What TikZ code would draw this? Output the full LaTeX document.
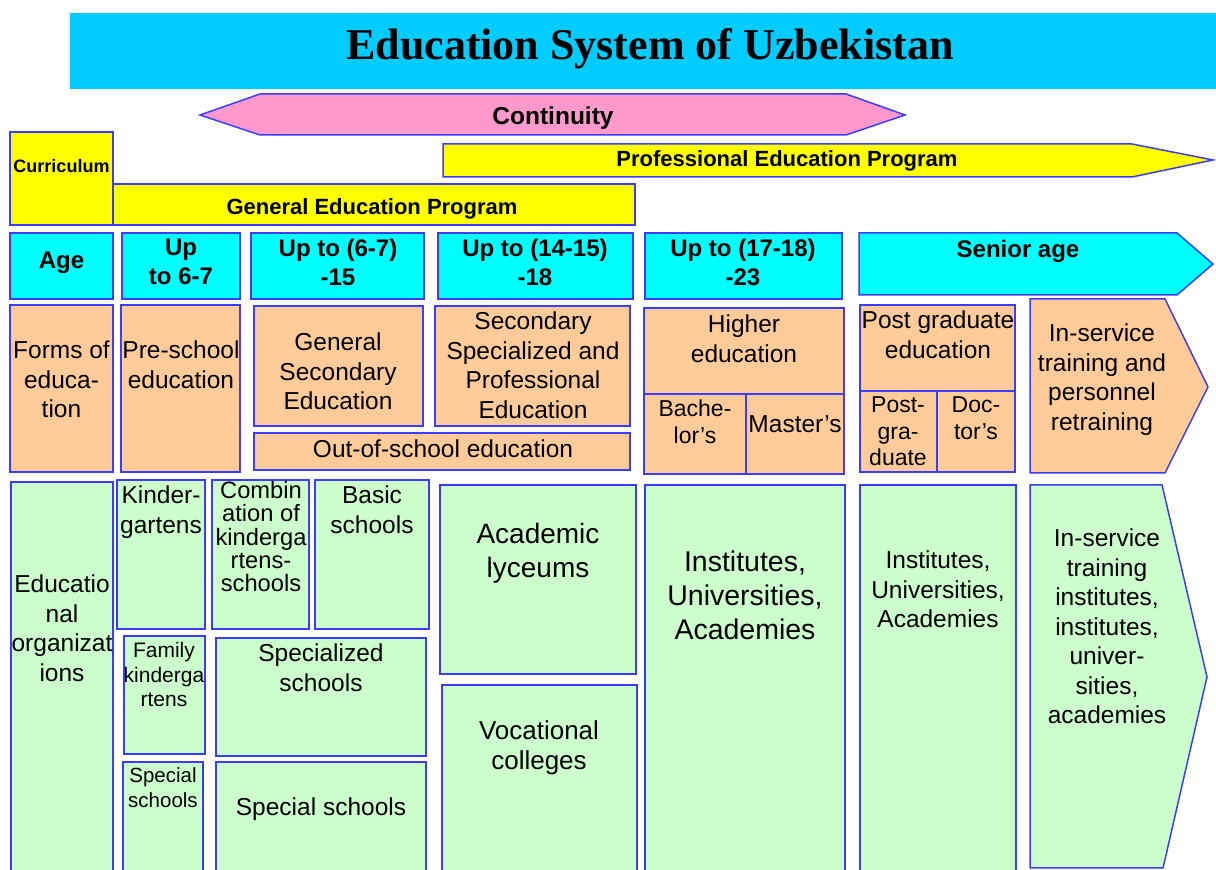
\documentclass[tikz,border=0pt]{standalone}
\usepackage{fontspec}
\setmainfont{Liberation Sans}
\newfontfamily\titlefont{Liberation Serif}
\definecolor{kedge}{RGB}{60,60,255}
\definecolor{ktitle}{RGB}{0,204,255}
\definecolor{kcyan}{RGB}{0,255,255}
\definecolor{kpeach}{RGB}{255,204,153}
\definecolor{kgreen}{RGB}{204,255,204}
\definecolor{kyellow}{RGB}{255,255,0}
\definecolor{kpink}{RGB}{255,153,204}
\tikzset{
  kbox/.style={draw=kedge,line width=0.75pt},
  klb/.style={inner sep=0pt,align=center,anchor=north},
  % first baseline goes at the given point
  kf/.style 2 args={font=\fontsize{#1}{#2}\selectfont,yshift={0.716*#1*1pt}},
  kbf/.style 2 args={font=\bfseries\fontsize{#1}{#2}\selectfont,yshift={0.716*#1*1pt}},
  khead/.style={kbf={12}{14.5}},
  kprog/.style={kbf={11}{13}},
  ktxt/.style={kf={12.25}{14.75}},
}
\begin{document}
\begin{tikzpicture}[x=0.5pt,y=-0.5pt]
\useasboundingbox (0,0) rectangle (1216,870);
% title bar
\fill[ktitle](70,13)rectangle(1216,89);
\node[inner sep=0pt,anchor=base,font=\titlefont\bfseries\fontsize{22}{26}\selectfont](title)at(650,60){Education System of Uzbekistan};
% continuity and programs
\draw[kbox,fill=kpink](200,115)--(260,94)--(846,94)--(905,115)--(846,135)--(260,135)--cycle;
\node[klb,kbf={12.25}{14}](cont)at(553,124){Continuity};
\draw[kbox,fill=kyellow](443,144)--(1132,144)--(1213,160)--(1132,177)--(443,177)--cycle;
\node[klb,kprog](prof)at(787,166){Professional Education Program};
\draw[kbox,fill=kyellow](10,132)rectangle(113,225);
\draw[kbox,fill=kyellow](113,184)rectangle(635,225);
\node[klb,kbf={9}{11}](curr)at(61.5,172){Curriculum};
\node[klb,kprog](gen)at(372,214){General Education Program};
% age row
\foreach \xa/\xb in {10/113,122/240,251/424,438/633,645/842}{\draw[kbox,fill=kcyan](\xa,233)rectangle(\xb,299);}
\draw[kbox,fill=kcyan](859,233)--(1177,233)--(1213,264)--(1177,295)--(859,295)--cycle;
\foreach \nm/\cx/\by/\txt in {age/61.5/269/Age,a1/181/256/{Up\\to 6-7},a2/338/256/{Up to (6-7)\\-15},
  a3/535/256/{Up to (14-15)\\-18},a4/743/256/{Up to (17-18)\\-23},a5/1018/257/{Senior age}}
  {\node[klb,khead](\nm)at(\cx,\by){\txt};}
% forms of education
\foreach \xa/\ya/\xb/\yb in {10/305/113/472,121/305/240/472,254/306/423/426,435/306/630/426,254/433/630/470,
  644/308/844/394,644/394/746/474,746/394/844/474,860/305/1015/391,860/391/937/472,937/391/1015/472}
  {\draw[kbox,fill=kpeach](\xa,\ya)rectangle(\xb,\yb);}
\draw[kbox,fill=kpeach](1030,299)--(1165,299)--(1208,387)--(1165,473)--(1030,473)--cycle;
\foreach \nm/\cx/\by/\txt in {forms/61.5/358/{Forms of\\educa-\\tion},pre/181/358/{Pre-school\\education},
  gse/338/350/{General\\Secondary\\Education},sspe/533/329/{Secondary\\Specialized and\\Professional\\Education},
  oos/443/457/{Out-of-school education},high/744/332/{Higher\\education},mas/795/433/{Master’s},
  pge/938/328/{Post graduate\\education},train/1102/341/{In-service\\training and\\personnel\\retraining}}
  {\node[klb,ktxt](\nm)at(\cx,\by){\txt};}
\foreach \nm/\cx/\by/\txt in {bach/695/416/{Bache-\\lor’s},pg/898/413/{Post-\\gra-\\duate},doc/976/413/{Doc-\\tor’s}}
  {\node[klb,kf={11.5}{13.25}](\nm)at(\cx,\by){\txt};}
% educational organizations
\foreach \xa/\ya/\xb/\yb in {11/482/113/880,117/480/205/629,212/480/309/629,315/480/429/629,124/636/205/754,
  216/638/426/756,123/762/203/880,216/762/426/880,440/485/636/674,442/685/637/880,645/485/845/880,860/485/1016/880}
  {\draw[kbox,fill=kgreen](\xa,\ya)rectangle(\xb,\yb);}
\draw[kbox,fill=kgreen](1030,485)--(1162,485)--(1207,677)--(1163,868)--(1030,868)--cycle;
\foreach \nm/\cx/\by/\txt in {edu/62/592/{Educatio\\nal\\organizat\\ions},kg/161/503/{Kinder-\\gartens},
  basic/372/503/{Basic\\schools},spec/321/661/{Specialized\\schools},spsch/321/815/{Special schools},
  inst2/938/568/{Institutes,\\Universities,\\Academies},isti/1107/546/{In-service\\training\\institutes,\\institutes,\\univer-\\sities,\\academies}}
  {\node[klb,ktxt](\nm)at(\cx,\by){\txt};}
\node[klb,kf={11.85}{11.65}](comb)at(261,498){Combin\\ation of\\kinderga\\rtens-\\schools};
\node[klb,kf={10.5}{12.25}](fam)at(164,657){Family\\kinderga\\rtens};
\node[klb,kf={10.25}{12.5}](spsm)at(163,782){Special\\schools};
\node[klb,kf={14}{17}](acad)at(538,543){Academic\\lyceums};
\node[klb,kf={13}{15}](voc)at(539,739){Vocational\\colleges};
\node[klb,kf={14.25}{16.85}](inst1)at(745,571){Institutes,\\Universities,\\Academies};
\end{tikzpicture}
\end{document}
